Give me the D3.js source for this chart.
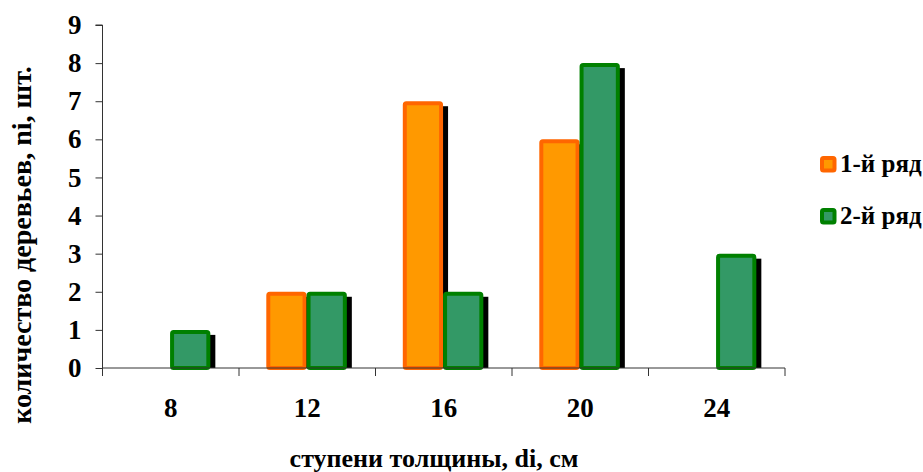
<!DOCTYPE html>
<html>
<head>
<meta charset="utf-8">
<script src="https://cdn.jsdelivr.net/npm/d3@7"></script>
<style>
  body { margin: 0; background: #fff; }
</style>
</head>
<body>
<div id="chart"></div>
<script>
// Data
const categories = ['8', '12', '16', '20', '24']
const row1 = [0, 2, 7, 6, 0]
const row2 = [1, 2, 2, 8, 3]
const seriesNames = ['1-й ряд', '2-й ряд']
const yTicks = [0, 1, 2, 3, 4, 5, 6, 7, 8, 9]

;(() => {
  // Vars for dimensions
  const width = 923
  const height = 472
  const margin = { top: 25, right: 138, bottom: 104, left: 102.5 }
  const innerWidth = width - margin.left - margin.right
  const innerHeight = height - margin.top - margin.bottom
  const font = '"Liberation Serif", "Times New Roman", serif'

  const colors = [
    { fill: '#ff9900', stroke: '#ff6600' },
    { fill: '#339966', stroke: '#008000' }
  ]

  const svg = d3.select('#chart')
    .append('svg')
    .attr('width', width)
    .attr('height', height)

  const g = svg.append('g')
    .attr('transform', `translate(${margin.left}, ${margin.top})`)

  // Scales
  const x = d3.scaleBand().domain(categories).range([0, innerWidth]).padding(0)
  const xs = d3.scaleBand().domain([0, 1])
    .range([x.bandwidth() * 0.2, x.bandwidth() * 0.79])
  const y = d3.scaleLinear().domain([0, 9]).range([innerHeight, 0])

  const rows = [row1, row2]
  const bars = []
  rows.forEach((vals, s) => {
    vals.forEach((v, i) => {
      if (v > 0) bars.push({ s, cat: categories[i], v })
    })
  })

  // Shadows first
  const shadow = 5
  g.append('g')
    .selectAll('rect')
    .data(bars)
    .join('rect')
    .attr('x', d => x(d.cat) + xs(d.s) + shadow)
    .attr('y', d => y(d.v) + shadow)
    .attr('width', xs.bandwidth())
    .attr('height', d => innerHeight - y(d.v) - shadow)
    .attr('fill', '#000')

  // Bars
  g.append('g')
    .selectAll('rect')
    .data(bars)
    .join('rect')
    .attr('x', d => x(d.cat) + xs(d.s) + 2)
    .attr('y', d => y(d.v) + 2)
    .attr('width', xs.bandwidth() - 4)
    .attr('height', d => innerHeight - y(d.v) - 2)
    .attr('rx', 1.5)
    .attr('fill', d => colors[d.s].fill)
    .attr('stroke', d => colors[d.s].stroke)
    .attr('stroke-width', 4)

  // Left axis
  const yAxis = g.append('g')
    .call(d3.axisLeft(y).tickValues(yTicks).tickSize(7).tickPadding(14).tickFormat(d3.format('d')))
  yAxis.select('.domain').attr('stroke', '#333').attr('d', `M0,${innerHeight}V0M-7,0H0`)
  yAxis.selectAll('.tick line').attr('stroke', '#333')
  yAxis.selectAll('.tick text')
    .style('font-family', font).style('font-weight', '700').style('font-size', '27px')
    .attr('fill', '#000')

  // Bottom axis - ticks on category boundaries
  const xAxis = g.append('g')
    .attr('transform', `translate(0, ${innerHeight})`)
    .call(d3.axisBottom(x).tickSize(0).tickPadding(30))
  xAxis.select('.domain').attr('stroke', '#333').attr('d', `M0,0H${innerWidth}`)
  xAxis.selectAll('.tick text')
    .style('font-family', font).style('font-weight', '700').style('font-size', '27px')
    .attr('fill', '#000')
  xAxis.selectAll('.bound')
    .data(d3.range(categories.length + 1))
    .join('line')
    .attr('class', 'bound')
    .attr('x1', i => i * x.step())
    .attr('x2', i => i * x.step())
    .attr('y1', 0)
    .attr('y2', 8)
    .attr('stroke', '#333')

  // Axis titles
  svg.append('text')
    .attr('x', 434)
    .attr('y', 467)
    .attr('text-anchor', 'middle')
    .style('font-family', font).style('font-weight', '700').style('font-size', '26px')
    .text('ступени толщины, di, см')

  svg.append('text')
    .attr('transform', 'translate(31, 245) rotate(-90)')
    .attr('text-anchor', 'middle')
    .style('font-family', font).style('font-weight', '700').style('font-size', '28px')
    .text('количество деревьев, ni, шт.')

  // Legend
  const legend = svg.append('g')
    .attr('transform', 'translate(820, 156)')
  seriesNames.forEach((name, i) => {
    const item = legend.append('g').attr('transform', `translate(0, ${i * 52})`)
    item.append('rect')
      .attr('x', 2).attr('y', 2)
      .attr('width', 12.5).attr('height', 12.5)
      .attr('rx', 1.5)
      .attr('fill', colors[i].fill)
      .attr('stroke', colors[i].stroke)
      .attr('stroke-width', 4)
    item.append('text')
      .attr('x', 20)
      .attr('y', 16)
      .style('font-family', font).style('font-weight', '700').style('font-size', '25px')
      .text(name)
  })
})()
</script>
</body>
</html>
